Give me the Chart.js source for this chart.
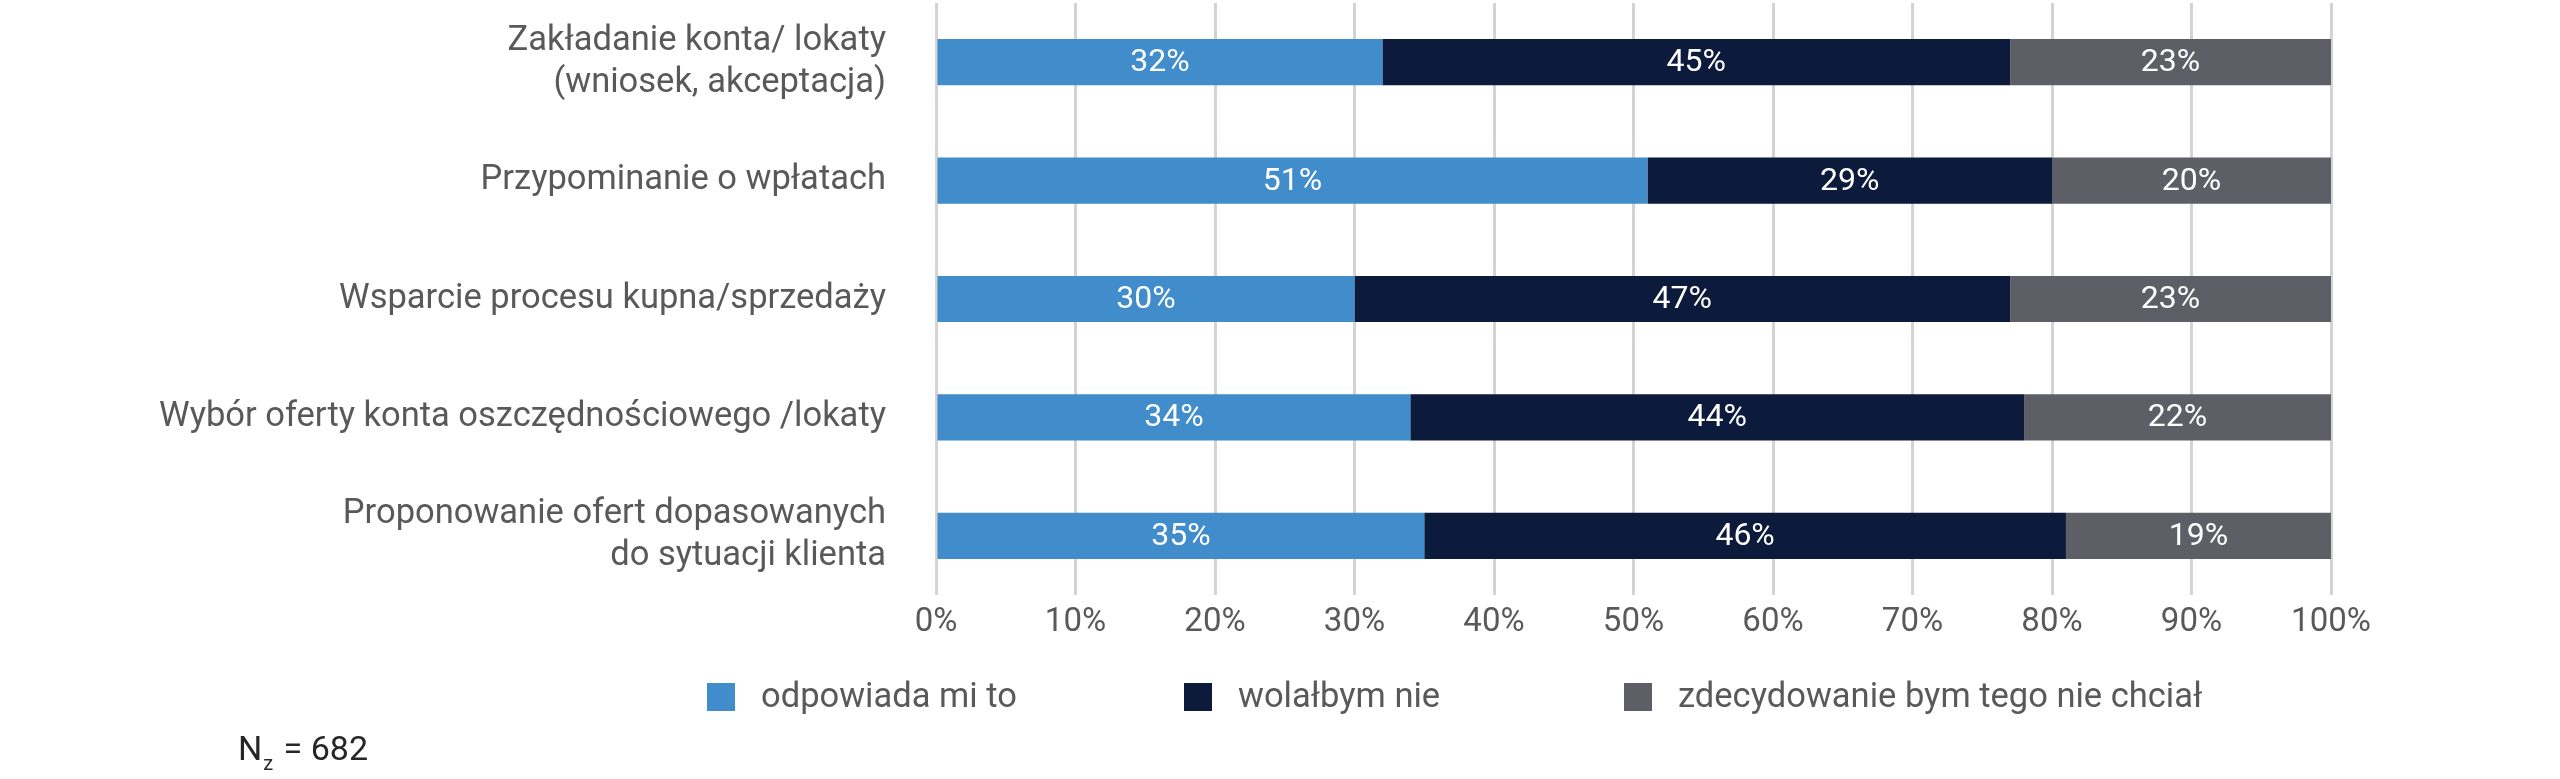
<!DOCTYPE html>
<html>
<head>
<meta charset="utf-8">
<script src="https://cdn.jsdelivr.net/npm/chart.js@4.4.1/dist/chart.umd.min.js"></script>
<style>
  html, body { margin: 0; padding: 0; background: #ffffff; }
  #wrap { position: relative; width: 2560px; height: 779px; }
  #note { position: absolute; left: 238px; top: 731px; font-family: Roboto, sans-serif; font-size: 34px; line-height: 1; color: #262626; white-space: nowrap; }
  #note sub { font-size: 20px; vertical-align: -10px; margin-left: 1px; margin-right: 2px; }
</style>
</head>
<body>
<div id="wrap">
  <canvas id="c"></canvas>
  <div id="note">N<sub>z</sub> = 682</div>
</div>
<script>
const categories = [
  ['Zakładanie konta/ lokaty', '(wniosek, akceptacja)'],
  'Przypominanie o wpłatach',
  'Wsparcie procesu kupna/sprzedaży',
  'Wybór oferty konta oszczędnościowego /lokaty',
  ['Proponowanie ofert dopasowanych', 'do sytuacji klienta']
];
const seriesNames = ['odpowiada mi to', 'wolałbym nie', 'zdecydowanie bym tego nie chciał'];
const odpowiada = [32, 51, 30, 34, 35];
const wolalbym = [45, 29, 47, 44, 46];
const zdecydowanie = [23, 20, 23, 22, 19];
const xTicks = [0, 10, 20, 30, 40, 50, 60, 70, 80, 90, 100];

const colors = ['#418ccb', '#0c1a3c', '#5e5f66'];
const FONT = 'Roboto, sans-serif';

const valueLabels = {
  id: 'valueLabels',
  afterDatasetsDraw(chart) {
    const ctx = chart.ctx;
    ctx.save();
    ctx.font = '32px ' + FONT;
    ctx.fillStyle = '#ffffff';
    ctx.textAlign = 'center';
    ctx.textBaseline = 'middle';
    chart.data.datasets.forEach((ds, i) => {
      const meta = chart.getDatasetMeta(i);
      meta.data.forEach((el, j) => {
        const cx = (el.x + el.base) / 2;
        ctx.fillText(ds.data[j] + '%', cx, el.y + 1);
      });
    });
    ctx.restore();
  }
};

const customLegend = {
  id: 'customLegend',
  afterDraw(chart) {
    const ctx = chart.ctx;
    const starts = [707, 1184, 1624];
    const yc = 697;
    ctx.save();
    ctx.font = '34.5px ' + FONT;
    ctx.textBaseline = 'middle';
    ctx.textAlign = 'left';
    chart.data.datasets.forEach((ds, i) => {
      const x = starts[i];
      ctx.fillStyle = ds.backgroundColor;
      ctx.fillRect(x, yc - 14, 28, 28);
      ctx.fillStyle = '#595959';
      ctx.fillText(ds.label, x + 54, yc + 1);
    });
    ctx.restore();
  }
};

new Chart(document.getElementById('c'), {
  type: 'bar',
  data: {
    labels: categories,
    datasets: [
      { label: seriesNames[0], data: odpowiada, backgroundColor: colors[0] },
      { label: seriesNames[1], data: wolalbym, backgroundColor: colors[1] },
      { label: seriesNames[2], data: zdecydowanie, backgroundColor: colors[2] }
    ]
  },
  options: {
    indexAxis: 'y',
    responsive: true,
    maintainAspectRatio: false,
    devicePixelRatio: 1,
    animation: false,
    datasets: { bar: { categoryPercentage: 0.39, barPercentage: 1.0, borderWidth: 0 } },
    layout: { padding: { left: 0, right: 229, top: 3, bottom: 0 } },
    plugins: { legend: { display: false }, tooltip: { enabled: false } },
    scales: {
      x: {
        stacked: true,
        min: 0, max: 100,
        afterBuildTicks(scale) { scale.ticks = xTicks.map(v => ({ value: v })); },
        afterFit(scale) { scale.height = 184; scale.paddingLeft = 0; scale.paddingRight = 0; },
        grid: { color: '#d3d3d3', lineWidth: 3, drawTicks: false },
        border: { display: false },
        ticks: {
          padding: 8,
          color: '#595959',
          font: { family: FONT, size: 33 },
          callback: v => v + '%'
        }
      },
      y: {
        stacked: true,
        afterFit(scale) { scale.width = 936; scale.paddingTop = 0; scale.paddingBottom = 0; },
        grid: { display: false, drawTicks: false },
        border: { display: false },
        ticks: {
          padding: 50,
          color: '#595959',
          font: { family: FONT, size: 34.5, lineHeight: 1.22 }
        }
      }
    }
  },
  plugins: [valueLabels, customLegend]
});
</script>
</body>
</html>
